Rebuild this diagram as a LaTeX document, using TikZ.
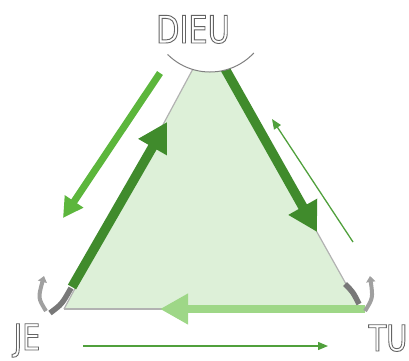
\documentclass[tikz,border=0pt]{standalone}
\usepackage{fontspec}
\newfontfamily\decofont[FakeStretch=0.8]{DejaVu Sans}
\usetikzlibrary{arrows.meta}
\newcommand{\outlinetext}[1]{\special{pdf:literal direct 1 Tr 0.9 w}#1\special{pdf:literal direct 0 Tr}}
\definecolor{trifill}{RGB}{221,240,216}
\definecolor{brightgreen}{RGB}{92,182,60}
\definecolor{darkgreen}{RGB}{64,139,44}
\definecolor{lightgreen}{RGB}{158,215,135}
\definecolor{thingreen}{RGB}{80,160,60}
\definecolor{edgegray}{RGB}{178,178,178}
\definecolor{hookdark}{RGB}{120,120,120}
\definecolor{hooklight}{RGB}{160,160,160}
\definecolor{textgray}{RGB}{100,100,100}
\tikzset{
  edge/.style={draw=edgegray, line width=1.2pt},
  lbl/.style={anchor=base, inner sep=0pt, text=textgray, font=\decofont\fontsize{38}{38}\selectfont},
  lblsmall/.style={lbl, font=\decofont\fontsize{36}{36}\selectfont},
  brightarrow/.style={draw=brightgreen, line width=7pt, -{Triangle[length=20pt,width=21pt]}},
  bigarrow/.style={draw=darkgreen, line width=9.5pt, -{Triangle[length=29pt,width=31pt]}},
  lightarrow/.style={draw=lightgreen, line width=8.5pt, -{Triangle[length=28pt,width=29pt]}},
  thinarrow/.style={draw=thingreen, line width=1.3pt, -{Triangle[length=10pt,width=8pt]}},
  hookband/.style={draw=hookdark, line width=5.5pt},
  hookarrow/.style={draw=hooklight, line width=4pt, -{Triangle[length=6pt,width=9pt]}}
}
\begin{document}
\begin{tikzpicture}[x=1pt,y=-1pt]
\useasboundingbox (0,0) rectangle (409,360);
% triangle
\coordinate (apex) at (209,39);
\coordinate (L) at (64,309);
\coordinate (R) at (360,309);
\fill[trifill] (apex) -- (L) -- (R) -- cycle;
\draw[edge] (apex) -- (L);
\draw[edge] (L) -- (R);
\draw[edge] (apex) -- (R);
% right thick arrow (tail hidden by circle)
\coordinate (r1) at (219,58);
\coordinate (r2) at (317,232);
\draw[bigarrow] (r1) -- (r2);
% circle at the top
\coordinate (c) at (210,12);
\fill[white] (c) circle[radius=60pt];
\draw[gray, line width=1pt] (c) ++(-135:60pt) arc[start angle=-135, end angle=-43, radius=60pt];
% left arrows
\coordinate (b1) at (160,73);
\coordinate (b2) at (63,218);
\draw[brightarrow] (b1) -- (b2);
\coordinate (d1) at (72,287);
\coordinate (d2) at (167,122);
\draw[bigarrow] (d1) -- (d2);
% bottom light arrow
\coordinate (g1) at (365,309);
\coordinate (g2) at (160,309);
\draw[lightarrow] (g1) -- (g2);
% thin arrows
\coordinate (t1) at (353,242);
\coordinate (t2) at (272,119);
\draw[thinarrow] (t1) -- (t2);
\coordinate (s1) at (83,346);
\coordinate (s2) at (328,346);
\draw[thinarrow] (s1) -- (s2);
% gray hooks
\coordinate (lh1) at (71,288);
\coordinate (lh2) at (50,313);
\draw[hookband] (lh1) .. controls (62,304) .. (lh2);
\coordinate (la1) at (46,311);
\coordinate (la2) at (44,276);
\draw[hookarrow] (la1) .. controls (38,298) .. (la2);
\coordinate (rh1) at (345,284);
\coordinate (rh2) at (359,304);
\draw[hookband] (rh1) .. controls (353,292) .. (rh2);
\coordinate (ra1) at (365,311);
\coordinate (ra2) at (370,276);
\draw[hookarrow] (ra1) .. controls (373,298) .. (ra2);
% labels
\node[lbl] (dieu) at (193,43) {\outlinetext{DIEU}};
\node[lblsmall] (je) at (27,350) {\outlinetext{JE}};
\node[lblsmall] (tu) at (388,351) {\outlinetext{TU}};
\end{tikzpicture}
\end{document}
